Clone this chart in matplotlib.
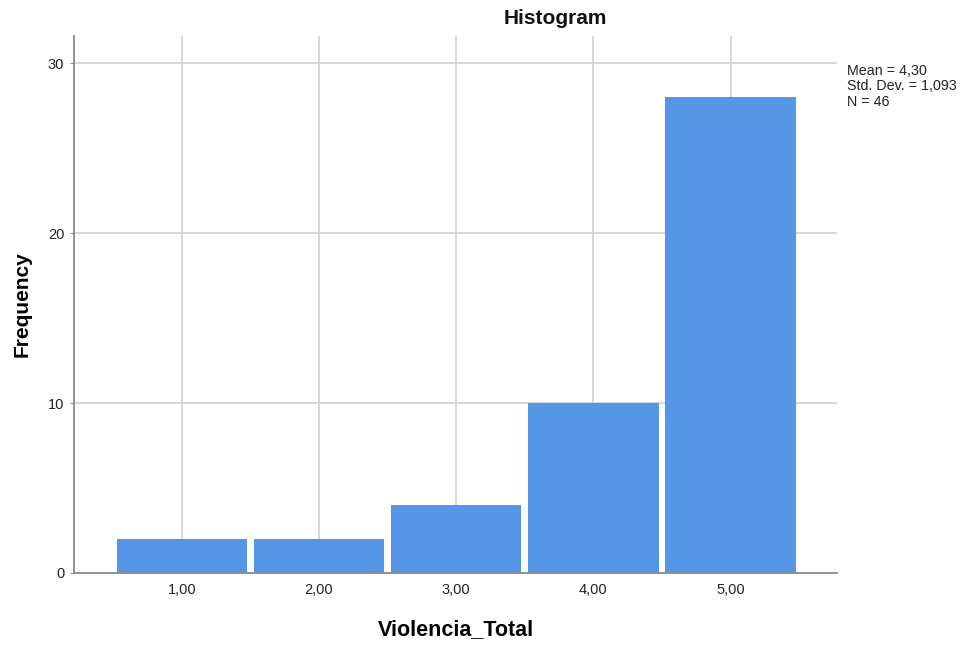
import matplotlib
matplotlib.use("Agg")
import matplotlib.pyplot as plt

categories = [1, 2, 3, 4, 5]
frequencies = [2, 2, 4, 10, 28]
xtick_labels = ["1,00", "2,00", "3,00", "4,00", "5,00"]
yticks = [0, 10, 20, 30]
stats_text = "Mean = 4,30\nStd. Dev. = 1,093\nN = 46"

plt.rcParams['font.family'] = ['Liberation Sans', 'DejaVu Sans']

fig = plt.figure(figsize=(9.62, 6.45), dpi=100)
ax = fig.add_axes([74/962, (645-573)/645, (837-74)/962, (573-36)/645])

ax.bar(categories, frequencies, width=0.95, color="#5596E6", zorder=3, linewidth=0)

ax.set_xlim(0.215, 5.775)
ax.set_ylim(0, 31.6)
ax.set_xticks(categories)
ax.set_xticklabels(xtick_labels)
ax.set_yticks(yticks)

ax.grid(True, color="#d4d4d4", linewidth=1.3, zorder=0)
for s in ["top", "right"]:
    ax.spines[s].set_visible(False)
ax.spines["left"].set_color("#8a8a8a")
ax.spines["bottom"].set_color("#8a8a8a")
ax.spines["left"].set_linewidth(1.3)
ax.spines["bottom"].set_linewidth(1.3)
ax.spines["left"].set_zorder(4)
ax.spines["bottom"].set_zorder(4)

ax.tick_params(axis="x", length=0, pad=7, labelsize=10.5, colors="#222222")
ax.tick_params(axis="y", length=3, color="#8a8a8a", pad=4, labelsize=10.5, labelcolor="#222222")

ax.set_xlabel("Violencia_Total", fontsize=15.5, fontweight="bold", labelpad=16)
ax.set_ylabel("Frequency", fontsize=15, fontweight="bold", labelpad=12)
fig.text(555/962, 1 - 18/645, "Histogram", fontsize=15, fontweight="bold",
         ha="center", va="center", color="#111111")

fig.text(847/962, 1 - 86.5/645, stats_text, fontsize=10.3, va="center", ha="left",
         color="#222222", linespacing=1.1)

fig.savefig("out.png", dpi=100)
